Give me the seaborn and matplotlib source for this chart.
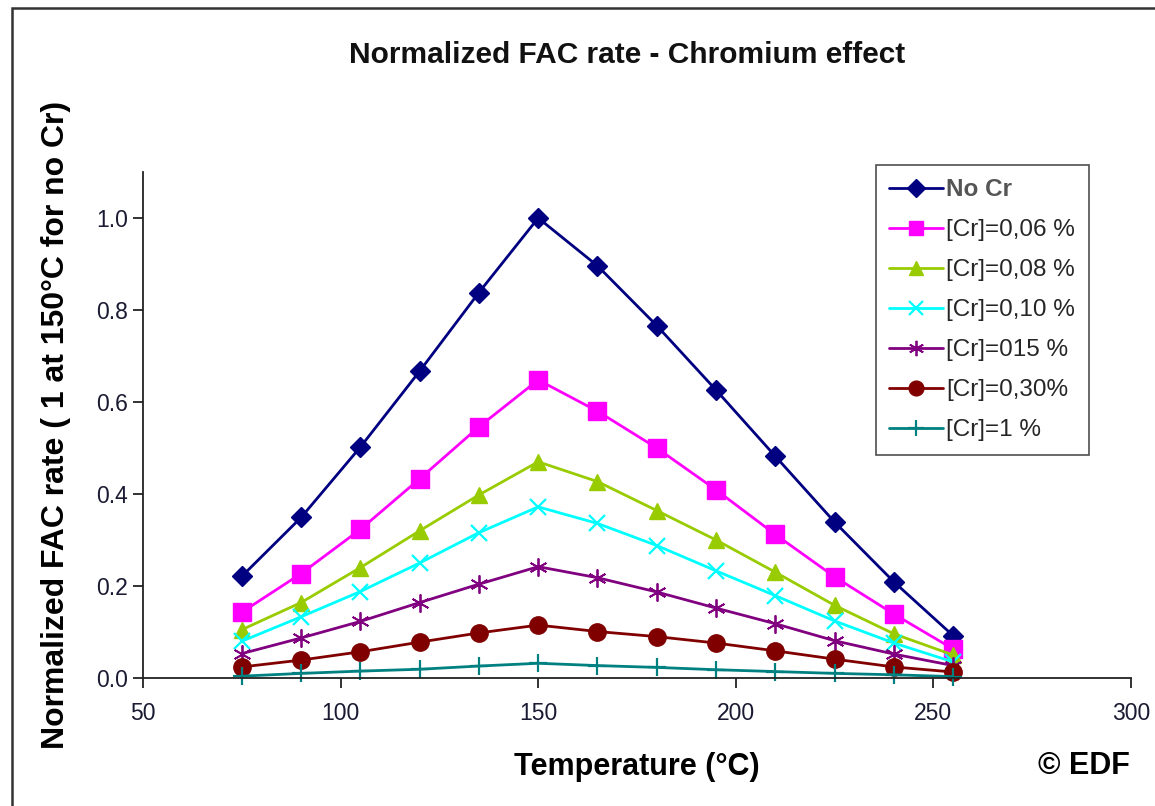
import matplotlib
matplotlib.use("Agg")
import matplotlib.pyplot as plt
from matplotlib.patches import Rectangle
import seaborn as sns
import pandas as pd

temperature = [75, 90, 105, 120, 135, 150, 165, 180, 195, 210, 225, 240, 255]

no_cr = [0.221, 0.349, 0.502, 0.667, 0.838, 1.000, 0.896, 0.766, 0.626, 0.482, 0.339, 0.209, 0.092]
cr_006 = [0.143, 0.227, 0.323, 0.433, 0.546, 0.648, 0.580, 0.500, 0.409, 0.312, 0.220, 0.139, 0.063]
cr_008 = [0.105, 0.164, 0.240, 0.320, 0.398, 0.470, 0.427, 0.364, 0.300, 0.230, 0.158, 0.096, 0.050]
cr_010 = [0.080, 0.133, 0.188, 0.250, 0.316, 0.372, 0.336, 0.288, 0.233, 0.179, 0.124, 0.076, 0.035]
cr_015 = [0.053, 0.087, 0.123, 0.164, 0.204, 0.242, 0.218, 0.187, 0.152, 0.118, 0.081, 0.052, 0.027]
cr_030 = [0.024, 0.039, 0.057, 0.078, 0.098, 0.115, 0.101, 0.090, 0.076, 0.059, 0.041, 0.024, 0.013]
cr_1 = [0.004, 0.010, 0.015, 0.019, 0.026, 0.032, 0.027, 0.023, 0.018, 0.014, 0.010, 0.007, 0.003]

series_labels = ["No Cr", "[Cr]=0,06 %", "[Cr]=0,08 %", "[Cr]=0,10 %",
                 "[Cr]=015 %", "[Cr]=0,30%", "[Cr]=1 %"]
series_values = [no_cr, cr_006, cr_008, cr_010, cr_015, cr_030, cr_1]

x_ticks = [50, 100, 150, 200, 250, 300]
y_ticks = [0.0, 0.2, 0.4, 0.6, 0.8, 1.0]

colors = ["#000080", "#FF00FF", "#99CC00", "#00FFFF", "#800080", "#800000", "#008080"]
markers = ["D", "s", "^", "x", (6, 2, 0), "o", "+"]
msizes = [10.5, 12.5, 11.5, 11.5, 13, 12.5, 13]
mews = [1, 1, 1, 1.6, 1.3, 1, 1.6]

sns.set_theme(style="white")
plt.rcParams["font.family"] = ["Liberation Sans", "DejaVu Sans"]

fig = plt.figure(figsize=(11.55, 8.06), dpi=100)
ax = fig.add_axes([143 / 1155, 1 - 678 / 806, (1131 - 143) / 1155, (678 - 172) / 806])

for lab, vals, c, m, ms, mew in zip(series_labels, series_values, colors, markers, msizes, mews):
    df = pd.DataFrame({"Temperature": temperature, "Rate": vals})
    sns.lineplot(data=df, x="Temperature", y="Rate", ax=ax, color=c, marker=m,
                 markersize=ms, markeredgewidth=mew, markeredgecolor=c,
                 linewidth=2.0, label=lab, clip_on=False)

ax.set_xlim(50, 300)
ax.set_ylim(0, 1.1)
ax.set_xticks(x_ticks)
ax.set_yticks(y_ticks)
ax.set_xticklabels([str(t) for t in x_ticks])
ax.set_yticklabels([f"{t:.1f}" for t in y_ticks])
for s in ["top", "right"]:
    ax.spines[s].set_visible(False)
for s in ["left", "bottom"]:
    ax.spines[s].set_color("#222222")
    ax.spines[s].set_linewidth(1.3)
ax.tick_params(axis="both", which="major", direction="out", length=7, width=1.3,
               color="#222222", labelsize=16.5, labelcolor="#1a1a33", pad=4, bottom=True, left=True)
ax.tick_params(axis="x", pad=10)

ax.set_xlabel("Temperature (°C)", fontsize=22, fontweight="bold", labelpad=20, color="black")
ax.set_ylabel("Normalized FAC rate ( 1 at 150°C for no Cr)", fontsize=23, fontweight="bold",
              labelpad=18, color="black")

fig.text(627 / 1155, 1 - 55 / 806, "Normalized FAC rate - Chromium effect", ha="center",
         va="center", fontsize=21.5, fontweight="bold", color="#111111")
fig.text(1130 / 1155, 1 - 766 / 806, "© EDF", ha="right", va="center", fontsize=22,
         fontweight="bold", color="black")

leg = ax.legend(loc="upper left", bbox_to_anchor=((876 - 143) / (1131 - 143), (678 - 165) / (678 - 172)),
                fontsize=17.5, frameon=True, fancybox=False, shadow=False, borderpad=0.55,
                labelspacing=0.74, handlelength=2.2, handletextpad=0.15, borderaxespad=0,
                markerscale=0.85)
leg.get_frame().set_edgecolor("#222222")
leg.get_frame().set_linewidth(1.2)
t0 = leg.get_texts()[0]
t0.set_fontweight("bold")
t0.set_color("#555555")
t0.set_text("No Cr")

fig.patches.append(Rectangle((12 / 1155, -0.1), 1.2, 1 - 8 / 806 + 0.1, transform=fig.transFigure,
                             fill=False, edgecolor="#333333", linewidth=1.8))

fig.savefig("out.png", dpi=100)
